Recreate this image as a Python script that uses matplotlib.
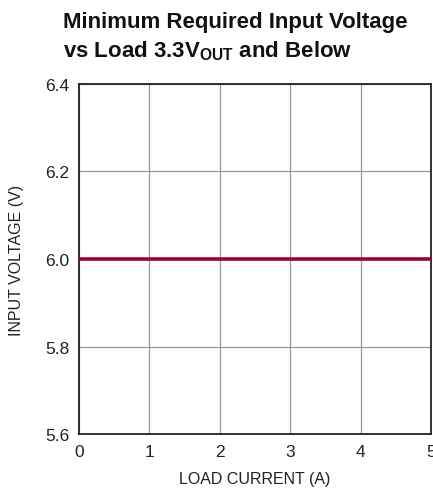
import matplotlib
matplotlib.use('Agg')
from matplotlib import pyplot as plt

# data
load_current = [0, 5]
input_voltage = [6.0, 6.0]
x_ticks = [0, 1, 2, 3, 4, 5]
y_ticks = [5.6, 5.8, 6.0, 6.2, 6.4]
y_tick_labels = ['5.6', '5.8', '6.0', '6.2', '6.4']

plt.rcParams['font.family'] = ['Liberation Sans', 'DejaVu Sans']
plt.rcParams['mathtext.fontset'] = 'custom'
plt.rcParams['mathtext.bf'] = 'Liberation Sans:bold'

fig = plt.figure(figsize=(4.33, 4.89), dpi=100)
ax = fig.add_axes([0.1824, 0.1104, 0.8130, 0.7158])

ax.plot(load_current, input_voltage, color='#9b0032', lw=2.6, solid_capstyle='butt', zorder=3)

ax.set_xlim(0, 5)
ax.set_ylim(5.6, 6.4)
ax.set_xticks(x_ticks)
ax.set_yticks(y_ticks)
ax.set_yticklabels(y_tick_labels)
ax.grid(True, color='#999999', lw=0.9)
ax.tick_params(length=0, labelsize=12.5, pad=7, colors='#222222')
for s in ax.spines.values():
    s.set_color('#222222')
    s.set_linewidth(1.3)

ax.set_xlabel('LOAD CURRENT (A)', fontsize=11.5, labelpad=9, color='#222222')
ax.set_ylabel('INPUT VOLTAGE (V)', fontsize=11.5, labelpad=15, color='#222222')

fig.text(0.145, 0.975, 'Minimum Required Input Voltage', fontsize=16, fontweight='bold',
         va='top', ha='left', color='#111111')
fig.text(0.145, 0.92, r'vs Load 3.3V$_{\mathbf{OUT}}$ and Below', fontsize=16, fontweight='bold',
         va='top', ha='left', color='#111111')

fig.savefig('out.png', dpi=100)
